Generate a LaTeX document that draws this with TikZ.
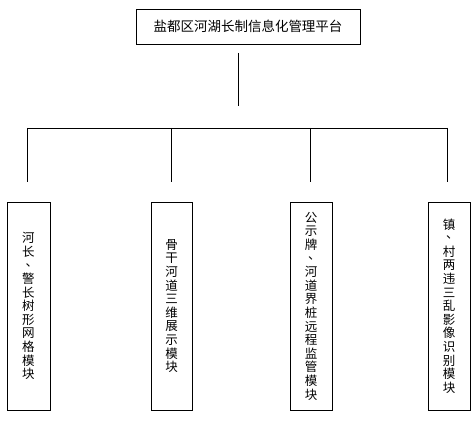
\documentclass[tikz,border=0pt]{standalone}
\usepackage{fontspec}
\setmainfont{Noto Sans CJK SC}
\usetikzlibrary{positioning}
\newcommand{\vdun}{\makebox[1em]{\hspace{0.55em}\raisebox{0.3em}{、}}}
\tikzset{
  basebox/.style={rectangle, draw=black, line width=0.8pt,
                  align=center, inner sep=0pt},
  rootnode/.style={basebox, minimum width=224pt, minimum height=35pt,
                   font=\fontsize{13.5}{14}\selectfont},
  modnode/.style={basebox, minimum width=42pt, minimum height=208pt,
                  font=\fontsize{12.5}{13.6}\selectfont},
  treeline/.style={line width=0.8pt, color=black}
}
\begin{document}
\begin{tikzpicture}[x=1pt, y=-1pt]
  \useasboundingbox (0,0) rectangle (475,422);

  % Platform
  \node[rootnode] (root) at (248,26.5) {盐都区河湖长制信息化管理平台};

  % Modules
  \node[modnode, minimum width=43pt] (mod1) at (28.5,306)
      {河\\长\\\vdun\\警\\长\\树\\形\\网\\格\\模\\块};
  \node[modnode, minimum width=41pt] (mod2) at (171.5,306)
      {骨\\干\\河\\道\\三\\维\\展\\示\\模\\块};
  \node[modnode] (mod3) at (311,306)
      {公\\示\\牌\\\vdun\\河\\道\\界\\桩\\远\\程\\监\\管\\模\\块};
  \node[modnode] (mod4) at (449,306)
      {镇\\\vdun\\村\\两\\违\\三\\乱\\影\\像\\识\\别\\模\\块};

  % Tree
  \coordinate (stemtop) at (238,53);
  \coordinate (stembot) at (238,106);
  \coordinate (bar1) at (27,128);
  \coordinate (bar2) at (171,128);
  \coordinate (bar3) at (310,128);
  \coordinate (bar4) at (447,128);

  \draw[treeline] (stemtop) -- (stembot);
  \draw[treeline] (bar1) -- (bar4);
  \draw[treeline] (bar1) -- ([yshift=20pt]mod1.north -| bar1);
  \draw[treeline] (bar2) -- ([yshift=20pt]mod2.north -| bar2);
  \draw[treeline] (bar3) -- ([yshift=20pt]mod3.north -| bar3);
  \draw[treeline] (bar4) -- ([yshift=20pt]mod4.north -| bar4);

\end{tikzpicture}
\end{document}
